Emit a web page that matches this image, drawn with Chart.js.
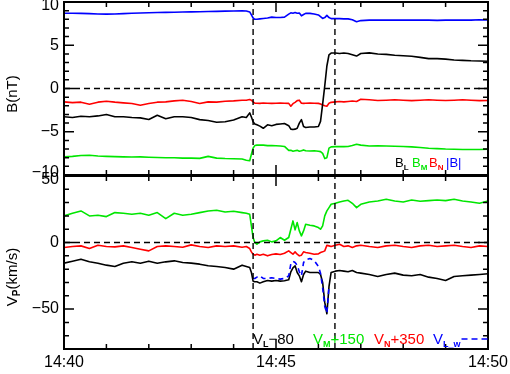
<!DOCTYPE html>
<html>
<head>
<meta charset="utf-8">
<script src="https://cdn.jsdelivr.net/npm/chart.js@4"></script>
<style>
  body { margin: 0; background: #fff; width: 510px; height: 374px; position: relative; overflow: hidden; }
  canvas { position: absolute; left: 0; }
  #top { top: 0; }
  #bot { top: 166px; }
</style>
</head>
<body>
<canvas id="top" width="510" height="190"></canvas>
<canvas id="bot" width="510" height="208"></canvas>
<script>
// minutes after 14:40
const timeLabels = ['14:40', '14:45', '14:50'];
const eventTimes = [4.46, 6.39];

const t = [0, 0.2, 0.4, 0.6, 0.8, 1, 1.2, 1.4, 1.6, 1.8, 2, 2.2, 2.4, 2.6, 2.8, 3, 3.2, 3.4, 3.6, 3.8, 4, 4.2,
  4.3, 4.38, 4.42, 4.46, 4.5, 4.55, 4.62, 4.7, 4.8, 4.9,
  5, 5.1, 5.2, 5.3, 5.35, 5.4, 5.45, 5.5, 5.55, 5.6, 5.65, 5.7, 5.8, 5.9,
  6, 6.05, 6.1, 6.15, 6.2, 6.25, 6.3, 6.4, 6.5, 6.6, 6.7, 6.8, 6.9,
  7, 7.2, 7.4, 7.6, 7.8, 8, 8.2, 8.4, 8.6, 8.8, 9, 9.2, 9.4, 9.6, 9.8, 10];

// magnetic field, nT
const bMag = [8.7, 8.7, 8.68, 8.66, 8.62, 8.6, 8.62, 8.66, 8.7, 8.72, 8.75, 8.78, 8.8, 8.82, 8.84, 8.86, 8.88, 8.9, 8.92, 8.94, 8.96, 8.97,
  8.96, 8.85, 8.5, 8.15, 8.0, 8.0, 8.05, 8.1, 8.15, 8.25,
  8.2, 8.2, 8.25, 8.6, 8.75, 8.7, 8.78, 8.7, 8.72, 8.4, 8.55, 8.68, 8.68, 8.62,
  8.5, 8.3, 8.1, 8.2, 8.45, 8.2, 8.08, 8.1, 8.08, 8.05, 8.05, 7.95, 7.72,
  7.85, 7.9, 7.9, 7.9, 7.92, 7.9, 7.9, 7.92, 7.9, 7.88, 7.9, 7.92, 7.9, 7.9, 7.95, 7.92];
const bL = [-3.27, -3.35, -3.2, -3.27, -3.17, -3.0, -3.27, -3.27, -3.35, -3.4, -3.58, -3.1, -3.5, -3.27, -3.27, -3.35, -3.6, -3.7, -3.9, -3.85, -3.65, -3.27,
  -3.35, -2.82, -3.3, -3.85, -4.1, -4.2, -4.35, -4.6, -4.2, -4.3,
  -4.15, -4.1, -4.05, -4.3, -4.7, -4.75, -4.7, -4.6, -4.0, -3.6, -4.4, -4.5, -4.45, -4.45,
  -4.4, -3.8, -1.8, 0.3, 2.6, 3.9, 4.1, 4.1, 4.05, 4.1, 4.05, 3.9, 3.75,
  4.05, 4.12, 3.98, 3.95, 3.85, 3.78, 3.72, 3.6, 3.45, 3.45, 3.4, 3.3, 3.25, 3.2, 3.18, 3.15];
const bN = [-1.55, -1.63, -1.58, -1.81, -1.58, -1.47, -1.58, -1.66, -1.74, -1.93, -1.74, -1.58, -1.55, -1.43, -1.35, -1.5, -1.74, -1.55, -1.58, -1.47, -1.43, -1.35,
  -1.35, -1.27, -1.35, -1.55, -1.7, -1.7, -1.72, -1.68, -1.7, -1.72,
  -1.7, -1.68, -1.7, -1.72, -2.05, -1.75, -1.6, -1.4, -1.35, -1.7, -1.72, -1.7, -1.68, -1.7,
  -1.72, -1.8, -1.9, -2.0, -2.05, -1.7, -1.6, -1.55, -1.5, -1.55, -1.5, -1.45, -1.5,
  -1.25, -1.3, -1.38, -1.35, -1.3, -1.35, -1.4, -1.35, -1.3, -1.35, -1.38, -1.35, -1.3, -1.35, -1.4, -1.38];
const bM = [-7.9, -7.85, -7.75, -7.72, -7.8, -7.85, -7.88, -7.9, -7.92, -7.9, -7.95, -7.98, -8.0, -8.0, -8.05, -8.05, -8.08, -7.85, -8.05, -8.1, -8.12, -8.15,
  -8.3, -8.35, -7.6, -6.9, -6.6, -6.55, -6.55, -6.55, -6.6, -6.6,
  -6.62, -6.65, -6.7, -7.15, -7.15, -7.25, -7.2, -7.15, -7.25, -7.2, -7.1, -7.2, -7.22, -7.2,
  -7.25, -7.3, -7.5, -8.1, -8.0, -6.9, -6.75, -6.72, -6.7, -6.72, -6.7, -6.6, -6.45,
  -6.55, -6.65, -6.62, -6.65, -6.68, -6.7, -6.75, -6.82, -6.9, -6.95, -7.0, -7.02, -7.05, -7.05, -7.05, -7.02];

// proton velocity, km/s (shifted as labelled)
const vL = [-15.5, -14, -12.5, -14.5, -15.5, -17, -18, -15.5, -14.5, -15.5, -14, -15.5, -14.5, -13.75, -15, -15.5, -16.25, -17.5, -18, -18.75, -20, -17,
  -18, -18.75, -22.5, -29, -29.5, -29.5, -30.5, -29.5, -28.5, -29,
  -28.5, -29, -28.75, -28, -22, -19, -17.5, -22.5, -25, -29.5, -24, -21.5, -22.5, -22.5,
  -22.5, -24, -30, -45, -53.5, -33, -22.5, -21.5, -21, -21.5, -22, -21, -22.5,
  -23, -24, -25.5, -24, -23, -24.5, -25, -24, -26, -27, -28.5, -25.5, -25, -24.5, -24, -23.5];
const vLw = [null, null, null, null, null, null, null, null, null, null, null, null, null, null, null, null, null, null, null, null, null, null,
  null, null, null, -27, -27, -26, -25, -27, -27, -26.5,
  -27, -27.5, -27, -25, -16, -14, -15, -17, -22, -25, -15, -13, -12, -13.5,
  -18, -23, -34, -48, -53, -33, null, null, null, null, null, null, null,
  null, null, null, null, null, null, null, null, null, null, null, null, null, null, null, null];
const vM = [20, 22, 23.75, 20, 20.5, 19.5, 22.5, 22, 21.25, 22, 20.5, 22.5, 18, 22, 20.5, 21.25, 22.5, 23.75, 24.25, 23, 23.5, 22.5,
  22, 21.25, 12.5, 3.75, 0, -1.25, 0.5, 1.25, 1.75, 0.5,
  1.25, 3.75, 1.75, 3.75, 10, 16.25, 9.5, 15, 8.75, 5, 8.75, 13.75, 13, 12.5,
  11.25, 10, 12.5, 20, 23.75, 26.25, 28.75, 29.5, 30.5, 31.25, 31.75, 29.5, 26.25,
  28.75, 30.5, 31.25, 32.5, 31.25, 30.5, 32, 31, 31.5, 32, 31.5, 32.5, 31.25, 30.5, 29.5, 31.25];
const vN = [-3.75, -3, -2.5, -4.5, -2, -3, -3.25, -2.5, -3.75, -5, -6.25, -3, -2.5, -3, -3.5, -1.75, -3, -3.75, -2.5, -3, -2.5, -3.5,
  -3, -4.5, -7, -8.75, -9.5, -8.75, -9.5, -8.75, -10, -9,
  -8.5, -9, -8, -6.25, -7.5, -8.75, -7, -8.75, -10, -9.5, -7, -7.5, -8, -8.75,
  -8.5, -7.5, -7, -6.25, -2, -2.5, -3, -2, -1.25, -3, -2.5, -3.75, -2.5,
  -2, -3, -3.75, -2.5, -2, -3, -3.75, -2.5, -2, -3, -2.5, -2, -3, -3.75, -2.5, -3];

const FONT = "'Liberation Sans', Arial, Helvetica, sans-serif";
const GREEN = '#00e600', RED = '#ff0000', BLUE = '#0000ff', BLACK = '#000';

function series(vals, color, dash) {
  return {
    data: t.map((x, i) => ({x, y: vals[i]})),
    borderColor: color, borderWidth: 1.6, borderDash: dash || [],
    borderJoinStyle: 'round', pointRadius: 0, tension: 0, spanGaps: false
  };
}

function refLines(min, max) {
  const dashed = {borderColor: BLACK, borderWidth: 1.4, borderDash: [6, 4], pointRadius: 0};
  return [{...dashed, data: [{x: 0, y: 0}, {x: 10, y: 0}]}]
    .concat(eventTimes.map(e => ({...dashed, data: [{x: e, y: min}, {x: e, y: max}]})));
}

const num = v => v < 0 ? '\u2212' + (-v) : String(v);
// IDL nudges the end labels inside the box; a 2-line label with a small line height does the same
// shift: value -> pixels (positive = down)
const yTicks = (step, shift) => ({
  stepSize: step, padding: 5, color: BLACK, includeBounds: false,
  font: c => {
    const s = c.tick ? shift[c.tick.value] : undefined;
    return {family: FONT, size: 16, lineHeight: s ? Math.abs(s) * 2 + 'px' : 1.2};
  },
  callback: v => {
    const s = shift[v];
    if (!s) return num(v);
    return s > 0 ? ['', num(v)] : [num(v), ''];
  }
});
const fitY = s => { s.width = 64; s.paddingTop = 0; s.paddingBottom = 0; };
const fitX = s => { s.height = 24; s.paddingLeft = 0; s.paddingRight = 0; };

function drawParts(ctx, x, y, parts, size, subSize) {
  parts.forEach(([txt, color, sub]) => {
    ctx.font = sub ? 'bold ' + subSize + 'px ' + FONT : size + 'px ' + FONT;
    ctx.fillStyle = color;
    ctx.fillText(txt, x, sub ? y + 3 : y);
    x += ctx.measureText(txt).width;
  });
  return x;
}

const frame = {
  id: 'frame',
  afterDraw(chart, args, o) {
    const {ctx, chartArea: a, scales: {x, y}} = chart;
    ctx.save();
    ctx.strokeStyle = BLACK;
    ctx.lineWidth = 1.5;
    ctx.beginPath();
    for (let m = x.min; m <= x.max; m++) {
      const px = x.getPixelForValue(m), len = m % 5 === 0 ? 10 : 5;
      ctx.moveTo(px, a.top); ctx.lineTo(px, a.top + len);
      ctx.moveTo(px, a.bottom); ctx.lineTo(px, a.bottom - len);
    }
    for (let v = y.min; v <= y.max + 1e-9; v += o.minor) {
      const py = y.getPixelForValue(v), len = Math.abs(v % o.major) < 1e-9 ? 10 : 5;
      ctx.moveTo(a.left, py); ctx.lineTo(a.left + len, py);
      ctx.moveTo(a.right, py); ctx.lineTo(a.right - len, py);
    }
    ctx.stroke();
    ctx.lineWidth = 2;
    ctx.strokeRect(a.left, a.top, a.right - a.left, a.bottom - a.top);

    // rotated axis title
    ctx.save();
    ctx.textBaseline = 'alphabetic';
    let w = 0;
    o.title.forEach(([txt, c, sub]) => {
      ctx.font = sub ? 'bold 10px ' + FONT : '15px ' + FONT;
      w += ctx.measureText(txt).width;
    });
    ctx.translate(17, o.titleY);
    ctx.rotate(-Math.PI / 2);
    drawParts(ctx, -w / 2, 0, o.title, 15, 10);
    ctx.restore();

    // in-panel legend
    ctx.textBaseline = 'alphabetic';
    o.legend.items.forEach(it => {
      const end = drawParts(ctx, it.x, o.legend.y, it.parts, o.legend.size, o.legend.sub);
      if (it.dash) {
        ctx.strokeStyle = it.parts[0][1];
        ctx.lineWidth = 1.6;
        ctx.setLineDash([6, 4]);
        ctx.beginPath();
        ctx.moveTo(end + 1, o.legend.y - 5);
        ctx.lineTo(a.right + 2, o.legend.y - 5);
        ctx.stroke();
        ctx.setLineDash([]);
      }
    });
    ctx.restore();
  }
};

const common = {
  responsive: false, animation: false, events: [],
  plugins: {legend: {display: false}, tooltip: {enabled: false}}
};

new Chart(document.getElementById('top'), {
  type: 'line',
  data: {datasets: refLines(-10, 10).concat([series(bL, BLACK), series(bN, RED), series(bM, GREEN), series(bMag, BLUE)])},
  options: {
    ...common,
    layout: {autoPadding: false, padding: {left: 0, right: 22, top: 2, bottom: 15}},
    plugins: {
      ...common.plugins,
      frame: {
        minor: 1, major: 5, titleY: 94,
        title: [['B(nT)', BLACK]],
        legend: {y: 167, size: 13, sub: 8, items: [
          {x: 395, parts: [['B', BLACK], ['L', BLACK, 1]]},
          {x: 412, parts: [['B', GREEN], ['M', GREEN, 1]]},
          {x: 429, parts: [['B', RED], ['N', RED, 1]]},
          {x: 446, parts: [['|B|', BLUE]]}
        ]}
      }
    },
    scales: {
      x: {type: 'linear', min: 0, max: 10, display: false},
      y: {min: -10, max: 10, grid: {display: false, drawTicks: false}, border: {display: false},
        afterFit: fitY, ticks: yTicks(5, {10: 4, '-10': -2})}
    }
  },
  plugins: [frame]
});

new Chart(document.getElementById('bot'), {
  type: 'line',
  data: {datasets: refLines(-80, 50).concat([series(vLw, BLUE, [5, 4]), series(vL, BLACK), series(vN, RED), series(vM, GREEN)])},
  options: {
    ...common,
    layout: {autoPadding: false, padding: {left: 0, right: 22, top: 10, bottom: 1}},
    plugins: {
      ...common.plugins,
      frame: {
        minor: 10, major: 50, titleY: 111,
        title: [['V', BLACK], ['P', BLACK, 1], ['(km/s)', BLACK]],
        legend: {y: 178, size: 15, sub: 9, items: [
          {x: 253, parts: [['V', BLACK], ['L', BLACK, 1], ['\u221280', BLACK]]},
          {x: 313, parts: [['V', GREEN], ['M', GREEN, 1], ['+150', GREEN]]},
          {x: 374, parts: [['V', RED], ['N', RED, 1], ['+350', RED]]},
          {x: 433, parts: [['V', BLUE], ['L_w', BLUE, 1]], dash: true}
        ]}
      }
    },
    scales: {
      x: {type: 'linear', min: 0, max: 10, grid: {display: false, drawTicks: false}, border: {display: false},
        afterFit: fitX,
        ticks: {stepSize: 5, padding: 4, color: BLACK, font: {family: FONT, size: 16},
          callback: v => timeLabels[Math.round(v / 5)]}},
      y: {min: -80, max: 50, grid: {display: false, drawTicks: false}, border: {display: false},
        afterFit: fitY, ticks: yTicks(50, {50: 4})}
    }
  },
  plugins: [frame]
});
</script>
</body>
</html>
